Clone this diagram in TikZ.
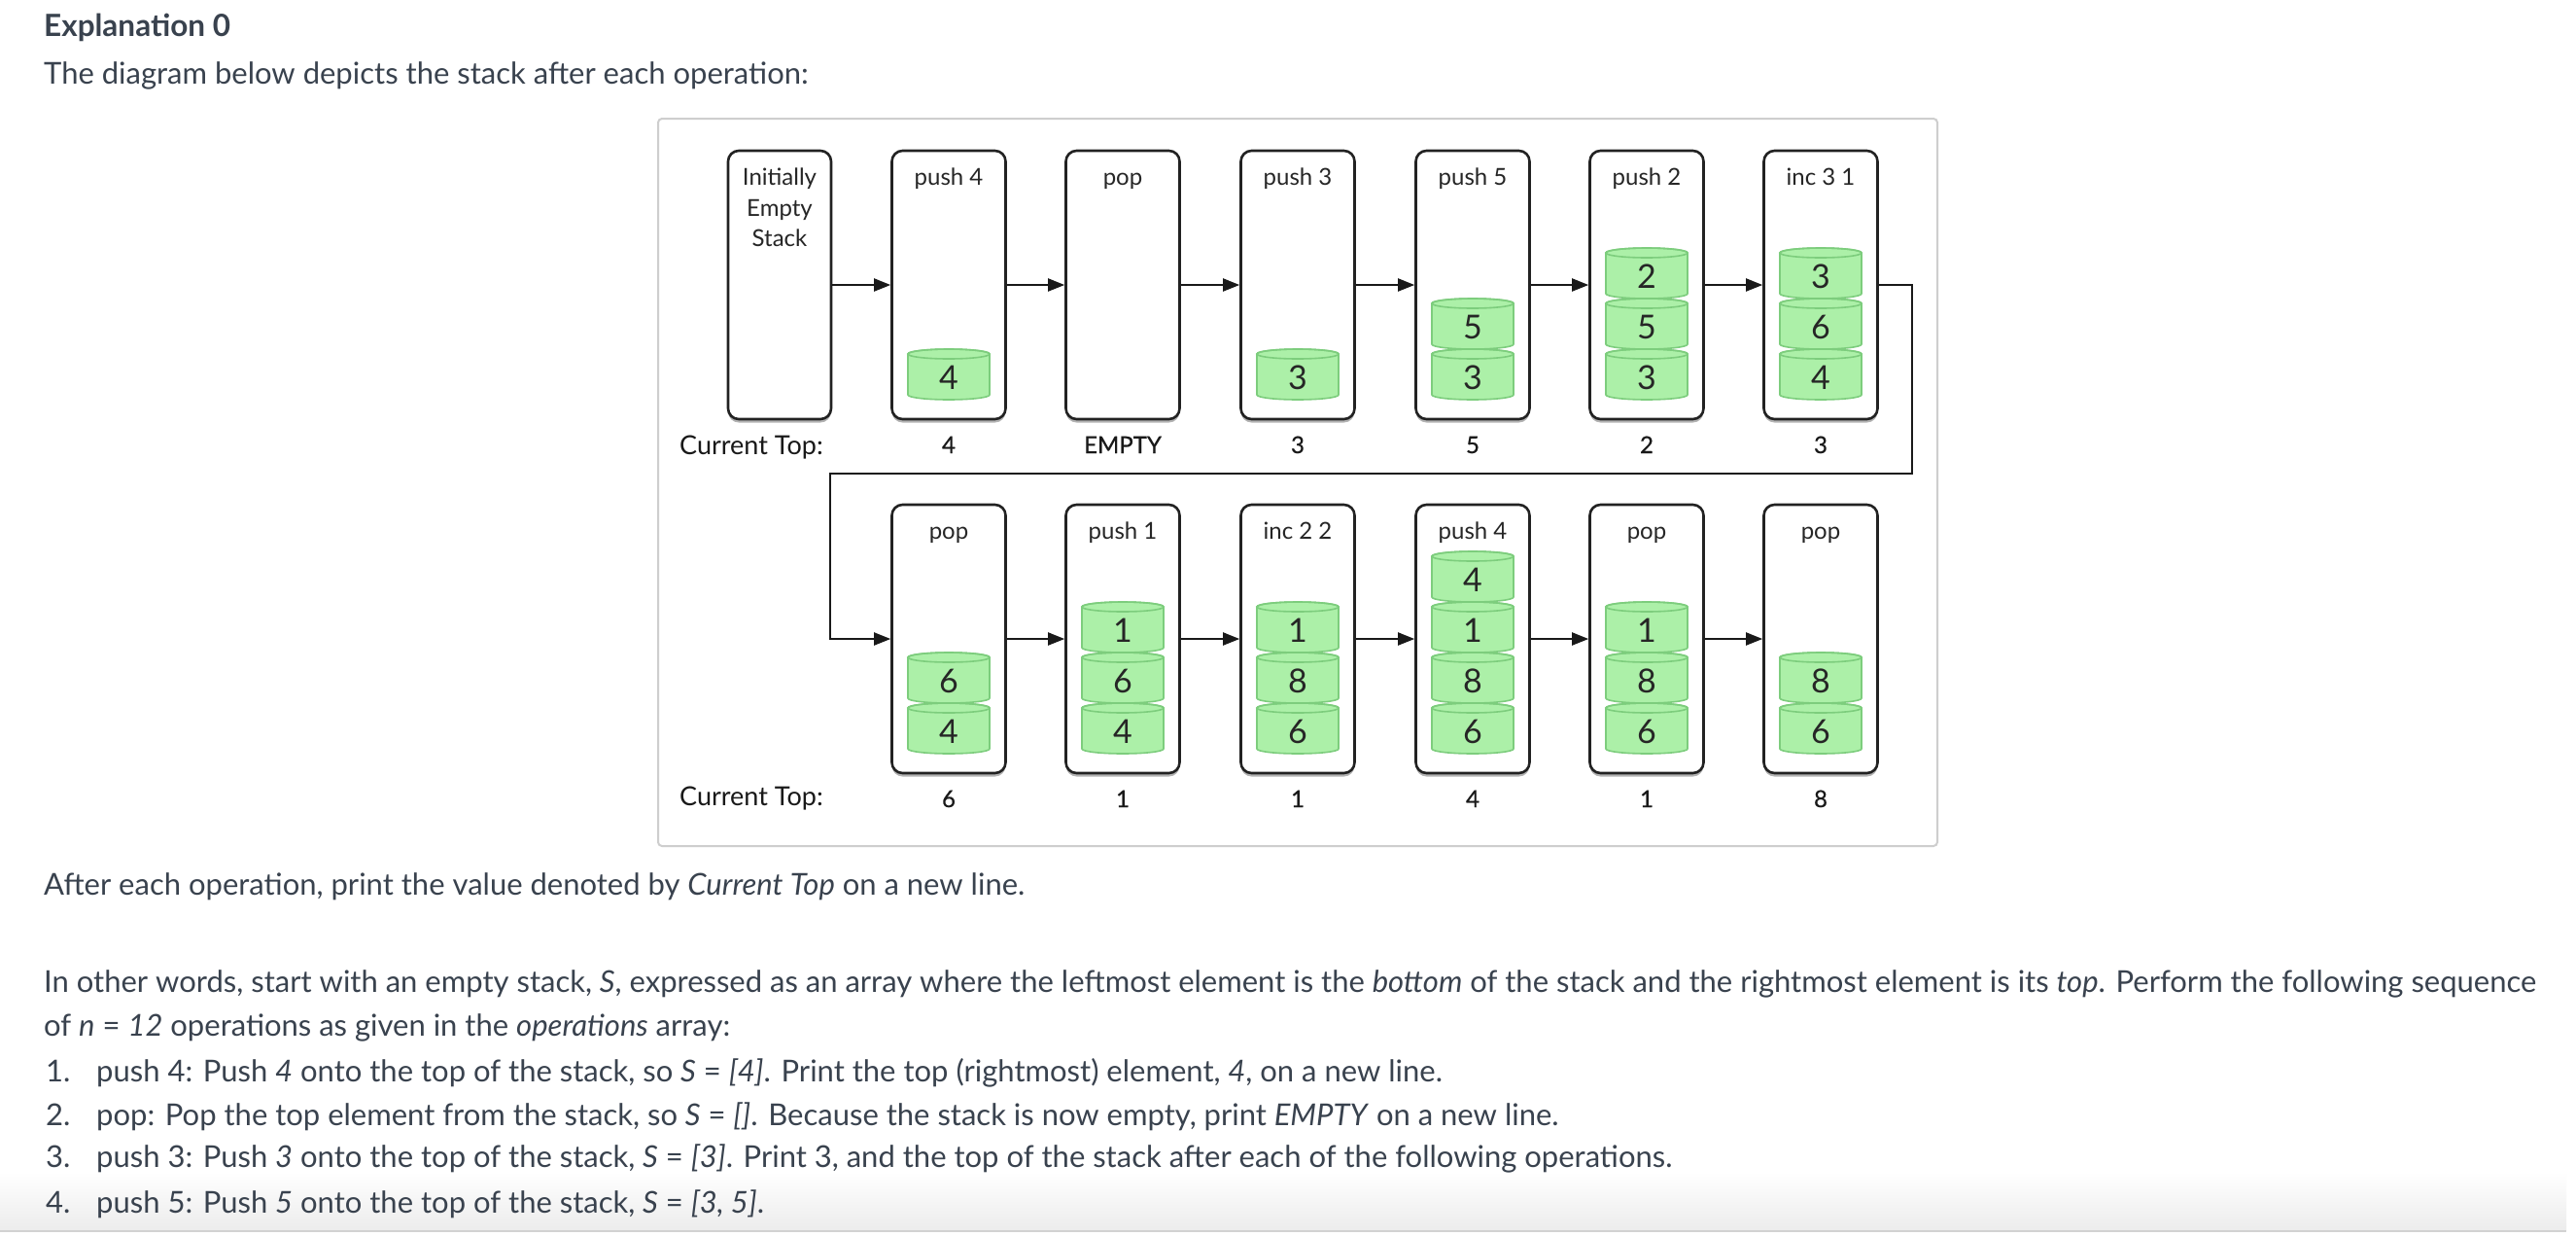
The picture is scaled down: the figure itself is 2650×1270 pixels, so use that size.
\documentclass[tikz,border=0pt]{standalone}
\usepackage{fontspec}
\setmainfont{Lato}
\newfontfamily\valfont[FakeBold=0.6]{Lato}
\usetikzlibrary{arrows.meta,shadows}
\definecolor{txt}{HTML}{39424E}
\definecolor{cylfill}{RGB}{172,240,168}
\definecolor{cyledge}{RGB}{125,205,125}
\definecolor{framegray}{RGB}{206,206,206}
\definecolor{boxline}{RGB}{34,34,34}
\tikzset{
  stackbox/.style={draw=boxline, line width=2.6pt, rounded corners=11pt, fill=white,
    minimum height=276pt, minimum width=117pt, inner sep=0pt,
    drop shadow={shadow xshift=0pt, shadow yshift=-3.5pt, opacity=0.3, fill=black}},
  cyl/.style={draw=cyledge, line width=1.6pt, fill=cylfill},
  digit/.style={font=\fontsize{34}{34}\selectfont, text=black!85, inner sep=0pt, anchor=base},
  boxtitle/.style={font=\fontsize{24}{24}\selectfont, text=black!85, inner sep=0pt, anchor=base},
  topval/.style={font=\valfont\fontsize{24}{24}\selectfont, text=black!90, inner sep=0pt, anchor=base},
  curlbl/.style={font=\fontsize{27}{27}\selectfont, text=black!90, inner sep=0pt, anchor=base west},
  flow/.style={line width=2pt, draw=black!90, -{Triangle[length=17pt,width=13pt]}},
  body/.style={font=\fontsize{31}{31}\selectfont, text=txt, inner sep=0pt, anchor=base west},
  head/.style={font=\fontsize{31.5}{31.5}\selectfont\bfseries, text=txt, inner sep=0pt, anchor=base west},
}
\newcommand\cylat[3]{%
  \filldraw[cyl] ({#1-42},{-(#2-42)}) -- ({#1-42},{-#2})
    arc[start angle=180,end angle=360,x radius=42,y radius=5]
    -- ({#1+42},{-(#2-42)})
    arc[start angle=0,end angle=180,x radius=42,y radius=5] -- cycle;
  \draw[cyl,fill=none] (#1,{-(#2-42)}) ellipse[x radius=42,y radius=5];
  \node[digit] (d-#1-#2) at (#1,{-(#2-6)}) {#3};
}
\begin{document}
\begin{tikzpicture}[x=1pt,y=1pt]
\useasboundingbox (0,0) rectangle (2650,-1270);
\fill[white] (0,0) rectangle (2650,-1270);

% bottom fade
\shade[top color=white, bottom color={rgb,255:red,236;green,236;blue,236}] (0,-1205) rectangle (2640,-1265);
\draw[gray!35, line width=2pt] (0,-1266) -- (2640,-1266);

% page text
\node[head] (h) at (45,-37) {Explanation 0};
\node[body] (p1) at (45,-86) {The diagram below depicts the stack after each operation:};
\node[body] (p2) at (45,-920) {After each operation, print the value denoted by \textit{Current Top} on a new line.};
\node[body] (p3) at (45,-1020) {In other words, start with an empty stack, \textit{S}, expressed as an array where the leftmost element is the \textit{bottom} of the stack and the rightmost element is its \textit{top}. Perform the following sequence};
\node[body] (p4) at (45,-1065) {of \textit{n} = \textit{12} operations as given in the \textit{operations} array:};
\node[body] (n1) at (47,-1112) {1.};
\node[body] (l1) at (99,-1112) {push 4: Push \textit{4} onto the top of the stack, so \textit{S} = \textit{[4]}. Print the top (rightmost) element, \textit{4}, on a new line.};
\node[body] (n2) at (47,-1157) {2.};
\node[body] (l2) at (99,-1157) {pop: Pop the top element from the stack, so \textit{S} = \textit{[]}. Because the stack is now empty, print \textit{EMPTY} on a new line.};
\node[body] (n3) at (47,-1200) {3.};
\node[body] (l3) at (99,-1200) {push 3: Push \textit{3} onto the top of the stack, \textit{S} = \textit{[3]}. Print 3, and the top of the stack after each of the following operations.};
\node[body] (n4) at (47,-1247) {4.};
\node[body] (l4) at (99,-1247) {push 5: Push \textit{5} onto the top of the stack, \textit{S} = \textit{[3, 5]}.};

% diagram frame
\draw[framegray, line width=2pt, rounded corners=4pt] (677,-122) rectangle (1993,-870);

% top row boxes
\node[stackbox, minimum width=106pt] (b1) at (802,-293) {};
\node[stackbox] (b2) at (976,-293) {};
\node[stackbox] (b3) at (1155,-293) {};
\node[stackbox] (b4) at (1335,-293) {};
\node[stackbox] (b5) at (1515,-293) {};
\node[stackbox] (b6) at (1694,-293) {};
\node[stackbox] (b7) at (1873,-293) {};

% bottom row boxes
\node[stackbox] (c1) at (976,-657) {};
\node[stackbox] (c2) at (1155,-657) {};
\node[stackbox] (c3) at (1335,-657) {};
\node[stackbox] (c4) at (1515,-657) {};
\node[stackbox] (c5) at (1694,-657) {};
\node[stackbox] (c6) at (1873,-657) {};

% titles
\node[boxtitle] (i1) at (802,-190) {Initially};
\node[boxtitle] (i2) at (802,-222) {Empty};
\node[boxtitle] (i3) at (802,-253) {Stack};
\node[boxtitle] (t2) at (976,-190) {push 4};
\node[boxtitle] (t3) at (1155,-190) {pop};
\node[boxtitle] (t4) at (1335,-190) {push 3};
\node[boxtitle] (t5) at (1515,-190) {push 5};
\node[boxtitle] (t6) at (1694,-190) {push 2};
\node[boxtitle] (t7) at (1873,-190) {inc 3 1};
\node[boxtitle] (s1) at (976,-554) {pop};
\node[boxtitle] (s2) at (1155,-554) {push 1};
\node[boxtitle] (s3) at (1335,-554) {inc 2 2};
\node[boxtitle] (s4) at (1515,-554) {push 4};
\node[boxtitle] (s5) at (1694,-554) {pop};
\node[boxtitle] (s6) at (1873,-554) {pop};

% stacks top row
\cylat{976}{406}{4}
\cylat{1335}{406}{3}
\cylat{1515}{406}{3}\cylat{1515}{354}{5}
\cylat{1694}{406}{3}\cylat{1694}{354}{5}\cylat{1694}{302}{2}
\cylat{1873}{406}{4}\cylat{1873}{354}{6}\cylat{1873}{302}{3}
% stacks bottom row
\cylat{976}{770}{4}\cylat{976}{718}{6}
\cylat{1155}{770}{4}\cylat{1155}{718}{6}\cylat{1155}{666}{1}
\cylat{1335}{770}{6}\cylat{1335}{718}{8}\cylat{1335}{666}{1}
\cylat{1515}{770}{6}\cylat{1515}{718}{8}\cylat{1515}{666}{1}\cylat{1515}{614}{4}
\cylat{1694}{770}{6}\cylat{1694}{718}{8}\cylat{1694}{666}{1}
\cylat{1873}{770}{6}\cylat{1873}{718}{8}

% arrows
\draw[flow] (b1.east) -- (b2.west);
\draw[flow] (b2.east) -- (b3.west);
\draw[flow] (b3.east) -- (b4.west);
\draw[flow] (b4.east) -- (b5.west);
\draw[flow] (b5.east) -- (b6.west);
\draw[flow] (b6.east) -- (b7.west);
\coordinate (r1) at (1967,-487);
\coordinate (r2) at (854,-487);
\draw[flow] (b7.east) -| (r1) -- (r2) |- (c1.west);
\draw[flow] (c1.east) -- (c2.west);
\draw[flow] (c2.east) -- (c3.west);
\draw[flow] (c3.east) -- (c4.west);
\draw[flow] (c4.east) -- (c5.west);
\draw[flow] (c5.east) -- (c6.west);

% current top rows
\node[curlbl] (ct1) at (699,-467) {Current Top:};
\node[topval] (v2) at (976,-466) {4};
\node[topval] (v3) at (1155,-466) {EMPTY};
\node[topval] (v4) at (1335,-466) {3};
\node[topval] (v5) at (1515,-466) {5};
\node[topval] (v6) at (1694,-466) {2};
\node[topval] (v7) at (1873,-466) {3};
\node[curlbl] (ct2) at (699,-828) {Current Top:};
\node[topval] (w1) at (976,-830) {6};
\node[topval] (w2) at (1155,-830) {1};
\node[topval] (w3) at (1335,-830) {1};
\node[topval] (w4) at (1515,-830) {4};
\node[topval] (w5) at (1694,-830) {1};
\node[topval] (w6) at (1873,-830) {8};
\end{tikzpicture}
\end{document}
